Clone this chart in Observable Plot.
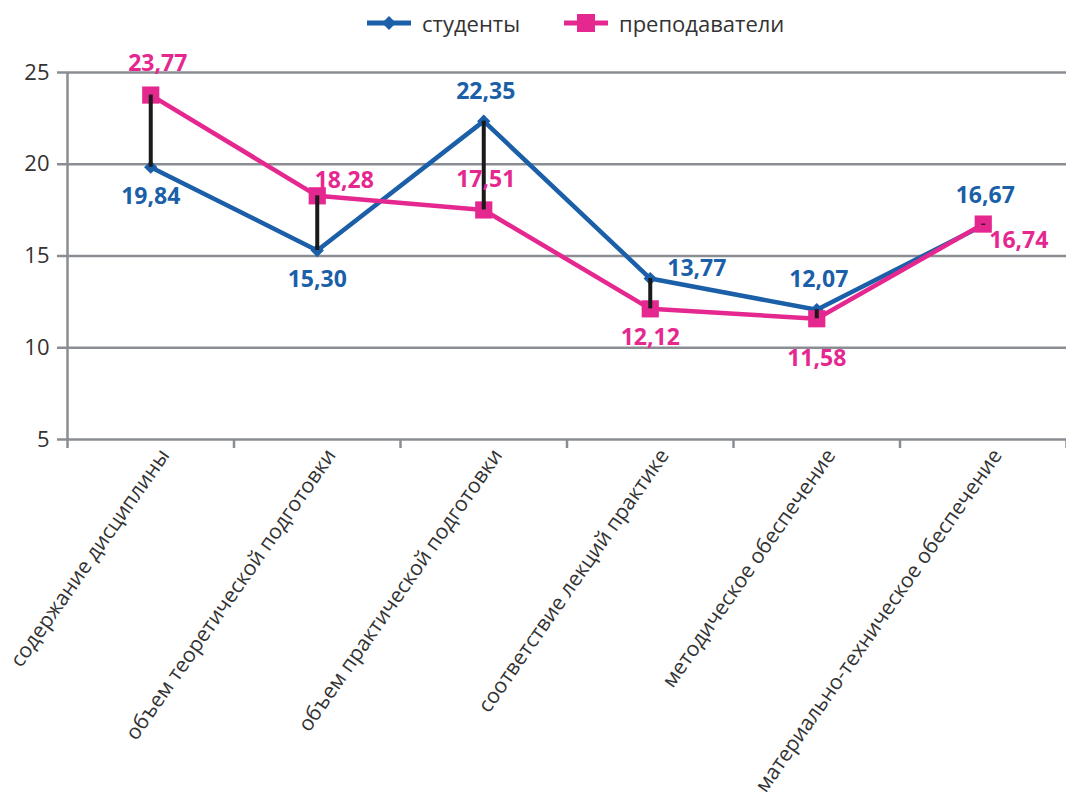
<!DOCTYPE html>
<html>
<head>
<meta charset="utf-8">
<script src="https://cdn.jsdelivr.net/npm/d3@7"></script>
<script src="https://cdn.jsdelivr.net/npm/@observablehq/plot@0.6"></script>
<style>
  body { margin: 0; background: #fff; font-family: "Open Sans", sans-serif; }
  #legend { position: relative; height: 45px; width: 1066px; }
  .item { position: absolute; top: 0; height: 45px; display: flex; align-items: center; font-size: 22px; color: #333; }
  .item svg { margin-right: 9px; }
  #chart svg { display: block; }
</style>
</head>
<body>
<div id="legend"></div>
<div id="chart"></div>
<script>
const categories = [
  "содержание дисциплины",
  "объем теоретической подготовки",
  "объем практической подготовки",
  "соответствие лекций практике",
  "методическое обеспечение",
  "материально-техническое обеспечение"
];
const students = [19.84, 15.30, 22.35, 13.77, 12.07, 16.67];
const teachers = [23.77, 18.28, 17.51, 12.12, 11.58, 16.74];
const seriesNames = ["студенты", "преподаватели"];
const yTicks = [5, 10, 15, 20, 25];
const studentPlace = ["below", "below", "above", "right", "above", "above"];
const teacherPlace = ["aboveTop", "aboveRight", "above", "below", "belowFar", "belowRight"];

const BLUE = "#1b5fa8";
const PINK = "#e5288f";
const GRID = "#8a8e93";

const rows = categories.map((c, i) => ({
  i: i + 0.5, cat: c, s: students[i], t: teachers[i],
  sp: studentPlace[i], tp: teacherPlace[i]
}));

const fmt = v => v.toFixed(2).replace(".", ",");

const placeStyle = {
  above: {dx: 2, dy: -30, textAnchor: "middle"},
  aboveTop: {dx: 7, dy: -31, textAnchor: "middle"},
  below: {dx: 0, dy: 29, textAnchor: "middle"},
  belowFar: {dx: 0, dy: 40, textAnchor: "middle"},
  right: {dx: 17, dy: -10, textAnchor: "start"},
  aboveRight: {dx: 27, dy: -15, textAnchor: "middle"},
  belowRight: {dx: 6, dy: 17, textAnchor: "start"}
};

function labels(key, placeKey, color) {
  return Object.entries(placeStyle).map(([name, st]) =>
    Plot.text(rows.filter(r => r[placeKey] === name), {
      x: "i", y: key, text: d => fmt(d[key]),
      fill: color, fontWeight: "bold", fontSize: 23,
      ...st
    })
  );
}

const centers = d3.range(categories.length).map(i => i + 0.5);
const bounds = d3.range(categories.length + 1);

const chart = Plot.plot({
  width: 1066,
  height: 758,
  marginTop: 27,
  marginBottom: 364,
  marginLeft: 67,
  marginRight: 0,
  style: {fontFamily: "'Open Sans', sans-serif", background: "#fff"},
  x: {type: "linear", domain: [0, categories.length]},
  y: {domain: [5, 25]},
  marks: [
    Plot.gridY(yTicks, {stroke: GRID, strokeOpacity: 1, strokeWidth: 2.5}),
    Plot.ruleX([0], {stroke: GRID, strokeWidth: 2.5}),
    Plot.axisY({ticks: yTicks, tickSize: 10, tickPadding: 8, fontSize: 22, color: "#333", stroke: GRID, strokeWidth: 2.5, label: null}),
    Plot.axisX({ticks: bounds, tickFormat: () => "", tickSize: 9, stroke: GRID, strokeWidth: 2.5, label: null}),
    Plot.axisX({ticks: centers, tickFormat: d => categories[Math.round(d - 0.5)], tickSize: 0, tickPadding: 0,
      tickRotate: -55, textAnchor: "end", dx: 14, dy: 12, fontSize: 21, color: "#333", label: null}),
    Plot.line(rows, {x: "i", y: "s", stroke: BLUE, strokeWidth: 4.5}),
    Plot.dot(rows, {x: "i", y: "s", symbol: "diamond2", r: 6, fill: BLUE, stroke: null}),
    Plot.line(rows, {x: "i", y: "t", stroke: PINK, strokeWidth: 4.5}),
    Plot.dot(rows, {x: "i", y: "t", symbol: "square", r: 9.7, fill: PINK, stroke: null}),
    Plot.ruleX(rows, {x: "i", y1: "s", y2: "t", stroke: "#1a1a1a", strokeWidth: 4}),
    ...labels("s", "sp", BLUE),
    ...labels("t", "tp", PINK)
  ]
});
document.getElementById("chart").append(chart);

// legend
const legend = document.getElementById("legend");
const items = [
  {name: seriesNames[0], color: BLUE, left: 365, shape: "diamond"},
  {name: seriesNames[1], color: PINK, left: 562, shape: "square"}
];
for (const it of items) {
  const div = document.createElement("div");
  div.className = "item";
  div.style.left = it.left + "px";
  const marker = it.shape === "diamond"
    ? `<path d="M24,16 L31,23 L24,30 L17,23 Z" fill="${it.color}"/>`
    : `<rect x="15" y="14" width="18" height="18" fill="${it.color}"/>`;
  div.innerHTML = `<svg width="48" height="45"><line x1="2" x2="46" y1="23" y2="23" stroke="${it.color}" stroke-width="5"/>${marker}</svg><span>${it.name}</span>`;
  legend.append(div);
}
</script>
</body>
</html>
